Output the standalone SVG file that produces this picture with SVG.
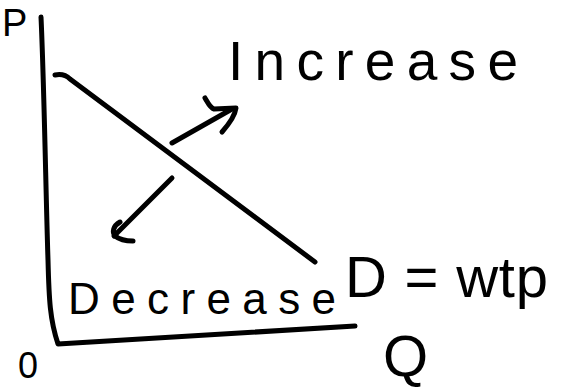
<svg xmlns="http://www.w3.org/2000/svg" width="562" height="390" viewBox="0 0 562 390">
<style>
.ink{fill:none;stroke:#000;stroke-width:5;stroke-linecap:round;stroke-linejoin:round}
.t{font-family:"Liberation Sans",Arial,sans-serif;fill:#000}
</style>
<rect width="562" height="390" fill="#fff"/>
<g id="axes">
<path class="ink" d="M41,17 C44,80 46,200 48,260 C49,300 50,320 58,344 L355,326"/>
</g>
<g id="demand">
<path class="ink" d="M55,75 C60,74 66,75 70,79 L315,262"/>
</g>
<g id="connectors">
<path class="ink" d="M172,143 L232,109"/>
<path class="ink" d="M205,98 C208,103 210,108 214,109 L236,108 C235,116 229,124 222,132"/>
<path class="ink" d="M172,178 L114,236"/>
<path class="ink" d="M120,222 C113,226 112,232 115,236 C120,240 127,241 133,241"/>
</g>
<g id="labels">
<text class="t" x="2" y="36" font-size="38">P</text>
<text class="t" x="228" y="80" font-size="55" textLength="290" lengthAdjust="spacing">Increase</text>
<text class="t" x="68" y="314" font-size="44" textLength="268" lengthAdjust="spacing">Decrease</text>
<text class="t" x="345" y="297" font-size="58" textLength="203" lengthAdjust="spacing">D = wtp</text>
<text class="t" x="383" y="376" font-size="58">Q</text>
<text class="t" x="18" y="378" font-size="36">0</text>
</g>
</svg>
